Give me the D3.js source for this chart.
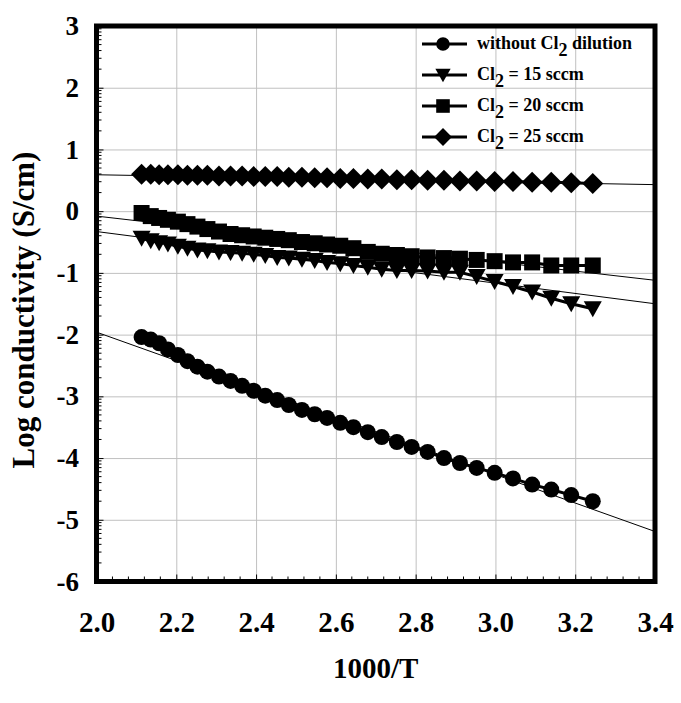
<!DOCTYPE html>
<html>
<head>
<meta charset="utf-8">
<script src="https://d3js.org/d3.v7.min.js"></script>
<style>
body { margin: 0; background: #fff; }
svg text { font-family: "Liberation Serif", "Times New Roman", serif; font-weight: bold; fill: #000; }
</style>
</head>
<body>
<svg id="drawing_region"></svg>
<script>
// 1000/T values shared by all four series
const xValues = [2.113, 2.136, 2.157, 2.179, 2.204, 2.228, 2.253, 2.278, 2.307, 2.336,
    2.365, 2.394, 2.423, 2.453, 2.482, 2.515, 2.547, 2.578, 2.611, 2.644,
    2.680, 2.715, 2.753, 2.790, 2.830, 2.871, 2.911, 2.953, 2.998, 3.044,
    3.092, 3.140, 3.190, 3.244];

// log conductivity, one array per series
const noDilution = [-2.04, -2.08, -2.14, -2.24, -2.33, -2.43, -2.52, -2.60, -2.68, -2.75,
    -2.83, -2.91, -2.99, -3.06, -3.14, -3.22, -3.29, -3.35, -3.43, -3.50,
    -3.58, -3.66, -3.74, -3.82, -3.90, -4.00, -4.08, -4.16, -4.24, -4.33,
    -4.43, -4.51, -4.60, -4.70];
const cl15 = [-0.44, -0.48, -0.51, -0.53, -0.57, -0.60, -0.63, -0.64, -0.66, -0.67,
    -0.68, -0.70, -0.72, -0.75, -0.76, -0.78, -0.80, -0.83, -0.85, -0.88,
    -0.91, -0.94, -0.96, -0.96, -0.97, -0.99, -0.99, -1.06, -1.14, -1.22,
    -1.31, -1.41, -1.50, -1.58];
const cl20 = [-0.03, -0.08, -0.11, -0.14, -0.17, -0.21, -0.25, -0.29, -0.33, -0.37,
    -0.39, -0.41, -0.43, -0.45, -0.47, -0.50, -0.52, -0.54, -0.56, -0.60,
    -0.66, -0.69, -0.71, -0.73, -0.75, -0.76, -0.77, -0.79, -0.81, -0.83,
    -0.83, -0.88, -0.88, -0.88];
const cl25 = [0.60, 0.60, 0.59, 0.59, 0.59, 0.58, 0.58, 0.58, 0.57, 0.57,
    0.57, 0.56, 0.56, 0.56, 0.55, 0.55, 0.54, 0.54, 0.53, 0.53,
    0.52, 0.52, 0.51, 0.51, 0.50, 0.50, 0.49, 0.49, 0.48, 0.48,
    0.47, 0.47, 0.46, 0.45];

// fitted straight lines (value at each end of fitX)
const fitX = [2.0, 3.4];
const fitNoDilution = [-1.96, -5.19];
const fitCl15 = [-0.33, -1.50];
const fitCl20 = [-0.08, -1.12];
const fitCl25 = [0.59, 0.43];

// legend text: [before subscript, subscript, after]
const legendLabels = [
    ['without Cl', '2', ' dilution'],
    ['Cl', '2', ' = 15 sccm'],
    ['Cl', '2', ' = 20 sccm'],
    ['Cl', '2', ' = 25 sccm']
];

const xTicks = [2.0, 2.2, 2.4, 2.6, 2.8, 3.0, 3.2, 3.4];
const yTicks = [-6, -5, -4, -3, -2, -1, 0, 1, 2, 3];
const xTitle = '1000/T';
const yTitle = 'Log conductivity (S/cm)';

const series = [
    { values: noDilution, fit: fitNoDilution, shape: 'circle' },
    { values: cl15, fit: fitCl15, shape: 'triangle' },
    { values: cl20, fit: fitCl20, shape: 'square' },
    { values: cl25, fit: fitCl25, shape: 'diamond' }
];

class ScatterChart {

    constructor( config ) {
        this.config = config;
        this.init();
    }

    init() {
        let self = this;

        self.svg = d3.select( self.config.parent )
            .attr('width', self.config.width)
            .attr('height', self.config.height);

        self.chart = self.svg.append('g')
            .attr('transform', `translate(${self.config.margin.left}, ${self.config.margin.top})`);

        self.inner_width = self.config.width - self.config.margin.left - self.config.margin.right;
        self.inner_height = self.config.height - self.config.margin.top - self.config.margin.bottom;

        self.xscale = d3.scaleLinear()
            .domain( [2.0, 3.4] )
            .range( [0, self.inner_width] );

        self.yscale = d3.scaleLinear()
            .domain( [-6, 3] )
            .range( [self.inner_height, 0] );
    }

    marker( shape, s ) {
        // path centred on 0,0, scaled by s
        if (shape == 'circle') {
            const r = 8 * s;
            return `M${-r},0A${r},${r} 0 1,0 ${r},0A${r},${r} 0 1,0 ${-r},0Z`;
        }
        if (shape == 'triangle') return `M${-9*s},${-7.5*s}L${9*s},${-7.5*s}L0,${8.5*s}Z`;
        if (shape == 'square') return `M${-8*s},${-8*s}h${16*s}v${16*s}h${-16*s}Z`;
        return `M0,${-10.5*s}L${10.5*s},0L0,${10.5*s}L${-10.5*s},0Z`;
    }

    render() {
        let self = this;

        // grid
        self.chart.append('g')
            .call( d3.axisBottom(self.xscale).tickValues(xTicks).tickSize(self.inner_height).tickFormat('') )
            .call( g => g.select('.domain').remove() )
            .selectAll('line').attr('stroke', '#c0c0c0');
        self.chart.append('g')
            .call( d3.axisLeft(self.yscale).tickValues(yTicks).tickSize(-self.inner_width).tickFormat('') )
            .call( g => g.select('.domain').remove() )
            .selectAll('line').attr('stroke', '#c0c0c0');

        // fitted lines
        self.chart.append('g')
            .selectAll('line')
            .data(series)
            .join('line')
            .attr('x1', self.xscale(fitX[0]))
            .attr('x2', self.xscale(fitX[1]))
            .attr('y1', d => self.yscale(d.fit[0]))
            .attr('y2', d => self.yscale(d.fit[1]))
            .attr('stroke', '#000')
            .attr('stroke-width', 1);

        const line = d3.line()
            .x(d => self.xscale(d[0]))
            .y(d => self.yscale(d[1]));

        series.forEach( s => {
            const pts = xValues.map((x, i) => [x, s.values[i]]);
            self.chart.append('path')
                .attr('d', line(pts))
                .attr('fill', 'none')
                .attr('stroke', '#000')
                .attr('stroke-width', 3);
            self.chart.append('g')
                .selectAll('path')
                .data(pts)
                .join('path')
                .attr('transform', d => `translate(${self.xscale(d[0])},${self.yscale(d[1])})`)
                .attr('d', self.marker(s.shape, 1))
                .attr('fill', '#000');
        });

        // frame
        self.chart.append('rect')
            .attr('width', self.inner_width)
            .attr('height', self.inner_height)
            .attr('fill', 'none')
            .attr('stroke', '#000')
            .attr('stroke-width', 5);

        // minor ticks
        const yMinor = [];
        for (let v = -6; v < 3; v++)
            for (let k = 2; k <= 9; k++) yMinor.push(v + Math.log10(k));
        self.chart.append('g')
            .selectAll('line')
            .data(yMinor)
            .join('line')
            .attr('x1', 0).attr('x2', 5)
            .attr('y1', d => self.yscale(d)).attr('y2', d => self.yscale(d))
            .attr('stroke', '#000');

        const xMinor = d3.range(1, 35).filter(i => i % 5 != 0).map(i => 2.0 + i * 0.04);
        self.chart.append('g')
            .selectAll('line')
            .data(xMinor)
            .join('line')
            .attr('x1', d => self.xscale(d)).attr('x2', d => self.xscale(d))
            .attr('y1', self.inner_height).attr('y2', self.inner_height - 5)
            .attr('stroke', '#000');

        // axes with labels
        self.xaxis_group = self.chart.append('g')
            .attr('transform', `translate(0, ${self.inner_height})`)
            .call( d3.axisBottom(self.xscale).tickValues(xTicks)
                .tickSizeInner(-7).tickSizeOuter(0).tickPadding(30)
                .tickFormat(d3.format('.1f')) );
        self.xaxis_group.select('.domain').remove();
        self.xaxis_group.selectAll('text').attr('font-size', 29);

        self.yaxis_group = self.chart.append('g')
            .call( d3.axisLeft(self.yscale).tickValues(yTicks)
                .tickSizeInner(-7).tickSizeOuter(0).tickPadding(17.5)
                .tickFormat(d => String(d)) );
        self.yaxis_group.select('.domain').remove();
        self.yaxis_group.selectAll('text').attr('font-size', 27);

        // titles
        self.svg.append('text')
            .attr('x', self.config.margin.left + self.inner_width / 2)
            .attr('y', 678)
            .attr('text-anchor', 'middle')
            .attr('font-size', 29)
            .text(xTitle);

        self.svg.append('text')
            .attr('transform', `translate(34, 310) rotate(-90)`)
            .attr('text-anchor', 'middle')
            .attr('font-size', 31)
            .text(yTitle);

        // legend
        const legend = self.svg.append('g')
            .selectAll('g')
            .data(series)
            .join('g')
            .attr('transform', (d, i) => `translate(443, ${44 + i * 31})`);
        legend.append('line')
            .attr('x1', -21).attr('x2', 24)
            .attr('stroke', '#000').attr('stroke-width', 3);
        legend.append('path')
            .attr('d', d => self.marker(d.shape, 0.85))
            .attr('fill', '#000');
        const lt = legend.append('text')
            .attr('x', 34)
            .attr('y', 5)
            .attr('font-size', 18);
        lt.append('tspan').text((d, i) => legendLabels[i][0]);
        lt.append('tspan').attr('dy', 7).text((d, i) => legendLabels[i][1]);
        lt.append('tspan').attr('dy', -7).text((d, i) => legendLabels[i][2]);
    }
}

const config = {
    parent: '#drawing_region',
    width: 681,
    height: 703,
    margin: {top: 26, right: 26, bottom: 121.5, left: 96.5}
};

const chart = new ScatterChart( config );
chart.render();
</script>
</body>
</html>
